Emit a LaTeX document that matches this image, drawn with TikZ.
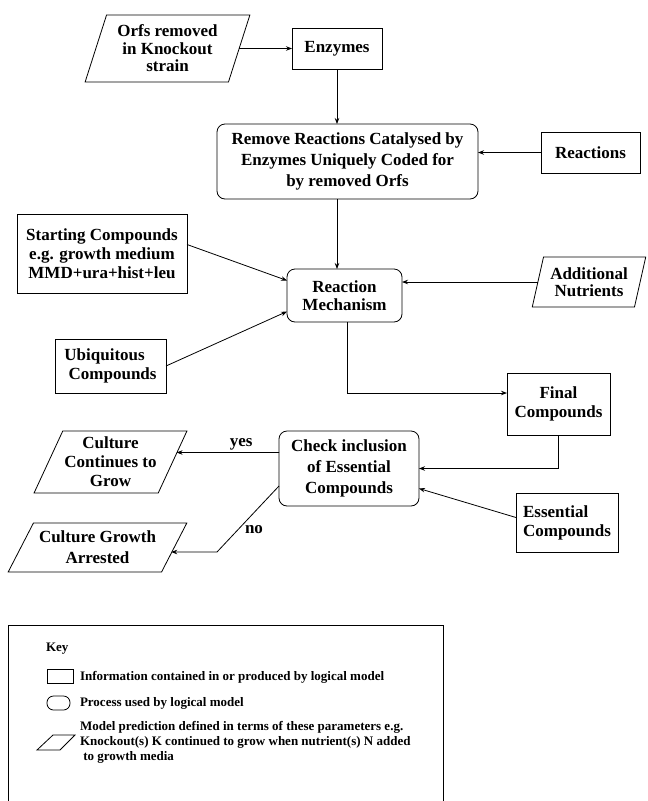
\documentclass[tikz,border=0pt]{standalone}
\usepackage{fontspec}
\setmainfont{Liberation Serif}
\usetikzlibrary{shapes.geometric,arrows.meta,calc}
\begin{document}
\begin{tikzpicture}[x=1pt,y=-1pt,
  every node/.style={inner sep=0pt, outer sep=0pt},
  mainfont/.style={font=\bfseries\fontsize{17}{19}\selectfont},
  tightfont/.style={font=\bfseries\fontsize{17}{17.5}\selectfont},
  keyfont/.style={font=\bfseries\fontsize{13}{15}\selectfont},
  box/.style={mainfont, draw, line width=0.8pt, align=center},
  proc/.style={box, rounded corners=8pt},
  pred/.style={box, trapezium, trapezium stretches=true},
  conn/.style={line width=0.8pt, -{Stealth[length=6pt,width=4.5pt]}},
  thin/.style={line width=0.8pt}
]
\useasboundingbox (0,0) rectangle (648,801);

% nodes
\node[pred, tightfont, trapezium left angle=69.5, trapezium right angle=110.5,
      minimum width=165pt, minimum height=67pt] (orfs) at (167.5,48.5)
      {Orfs removed\\in Knockout\\strain};
\node[box, minimum width=90pt, minimum height=41pt] (enz) at (337,48.5) {Enzymes};
\node[proc, minimum width=261pt, minimum height=75pt, font=\bfseries\fontsize{17}{21}\selectfont] (rem) at (347.5,161.5)
      {Remove Reactions Catalysed by\\Enzymes Uniquely Coded for\\by removed Orfs};
\node[box, minimum width=99pt, minimum height=41pt] (react) at (590.5,152.5) {Reactions};
\node[box, minimum width=170pt, minimum height=79pt] (start) at (102,253.5)
      {Starting Compounds\\e.g. growth medium\\MMD+ura+hist+leu};
\node[proc, tightfont, minimum width=115pt, minimum height=53pt] (rm) at (344.5,295.5)
      {Reaction\\Mechanism};
\node[pred, tightfont, trapezium left angle=72, trapezium right angle=108,
      minimum width=114pt, minimum height=50pt] (add) at (589,282)
      {Additional\\Nutrients};
\node[box, align=left, minimum width=111pt, minimum height=54pt] (ubi) at (110.5,366)
      {Ubiquitous\\\ Compounds};
\node[box, minimum width=103pt, minimum height=62pt] (final) at (558.5,404)
      {Final\\Compounds};
\node[proc, minimum width=140pt, minimum height=75pt, font=\bfseries\fontsize{17}{21}\selectfont] (check) at (349,468.5)
      {Check inclusion\\of Essential\\Compounds};
\node[box, align=left, minimum width=102pt, minimum height=59pt] (ess) at (567,522.5)
      {Essential\\Compounds};
\node[pred, trapezium left angle=61, trapezium right angle=119,
      minimum width=153pt, minimum height=62pt] (cont) at (110.5,462)
      {Culture\\Continues to\\Grow};
\node[pred, trapezium left angle=55, trapezium right angle=125,
      minimum width=179pt, minimum height=49pt, font=\bfseries\fontsize{17}{21}\selectfont] (arrested) at (97.5,547.5)
      {Culture Growth\\Arrested};

% connectors
\draw[conn] (orfs.east) -- (orfs.east -| enz.west);
\draw[conn] (enz.south) -- (enz.south |- rem.north);
\draw[conn] (react.west) -- (react.west -| rem.east);
\draw[conn] (rem.south -| enz.south) -- (rm.north -| enz.south);
\draw[conn] ($(start.east)+(0,-9)$) -- ($(rm.west)+(0,-15)$);
\draw[conn] (ubi.east) -- ($(rm.west)+(0,16)$);
\draw[conn] (add.west) -- (add.west -| rm.east);
\draw[conn] ($(rm.south)+(3,0)$) |- ($(final.west)+(0,-11)$);
\draw[conn] (final.south) |- (check.east);
\draw[conn] ($(ess.west)+(0,-5)$) -- ($(check.east)+(0,20)$);
\draw[conn] ($(check.west)+(0,-16)$) -- node[mainfont, pos=0.37, above=2pt] (yes) {yes}
      ($(cont.east)+(4,-9.5)$);
\draw[conn] ($(check.west)+(0,17.5)$) -- ++(-62,66) -- ($(arrested.east)+(-3,4.5)$);
\node[mainfont] (no) at (254,530) {no};

% key
\draw[thin] (8,802) -- (8,625) -- (443,625) -- (443,802);
\node[keyfont, anchor=west] (keyt) at (46,649) {Key};
\draw[thin] (47,669) rectangle (73,683);
\node[keyfont, anchor=west] (k1) at (80,677) {Information contained in or produced by logical model};
\draw[thin, rounded corners=6.5pt] (47,696) rectangle (70,710);
\node[keyfont, anchor=west] (k2) at (80,703) {Process used by logical model};
\draw[thin] (37,750) -- (53,735) -- (75,735) -- (60,750) -- cycle;
\node[keyfont, anchor=west, align=left] (k3) at (80,742)
  {Model prediction defined in terms of these parameters e.g.\\Knockout(s) K continued to grow when nutrient(s) N added\\\ to growth media};
\end{tikzpicture}
\end{document}
